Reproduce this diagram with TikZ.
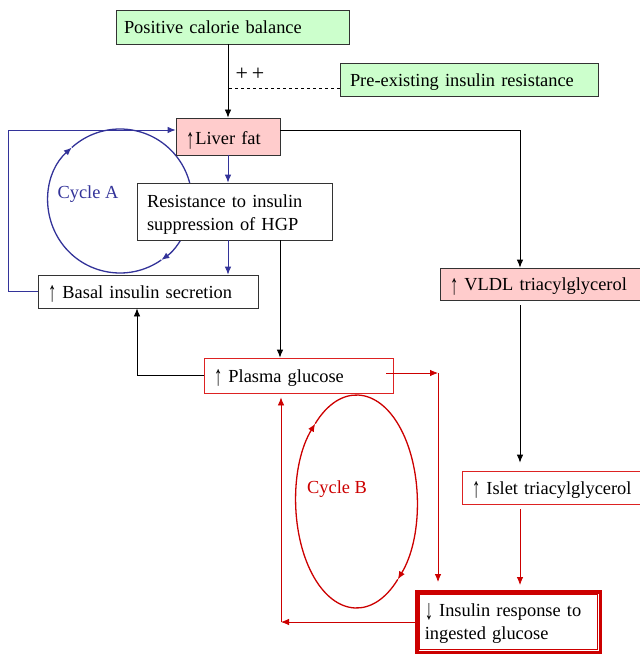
\documentclass[tikz,border=0pt]{standalone}
\usepackage{fontspec}
\usepackage{graphicx}
\setmainfont{Liberation Serif}
\usetikzlibrary{arrows.meta}
\definecolor{cblue}{HTML}{333399}
\definecolor{cred}{HTML}{CC0000}
\definecolor{lred}{HTML}{DD2222}
\definecolor{gfill}{HTML}{CCFFCC}
\definecolor{pfill}{HTML}{FFCCCC}
\definecolor{bgray}{HTML}{333333}
\newcommand\uparr{\raisebox{-3.5pt}{\scalebox{0.9}[1.55]{↑}}}
\newcommand\dnarr{\raisebox{-3.5pt}{\scalebox{0.9}[1.55]{↓}}}
\begin{document}
\begin{tikzpicture}[x=1pt,y=-1pt,
  box/.style={draw=bgray, rectangle, inner xsep=10pt, inner ysep=0pt, align=left,
    font=\fontsize{18.4}{23}\selectfont, line width=0.8pt, fill=white},
  single/.style={text height=15pt, text depth=1.5pt},
  arr/.style={-{Latex[length=8pt,width=6.5pt]}, line width=0.8pt},
  cyc/.style={line width=1.3pt, -{Latex[length=8pt,width=6.5pt]}},
  lbl/.style={font=\fontsize{18.4}{23}\selectfont},
 ]
\useasboundingbox (0,0) rectangle (639,655);

% cycles (drawn first so the boxes cover them)
\draw[cyc, cblue] ([shift={(55:72)}]120,201) arc[start angle=55, end angle=228, radius=72];
\draw[cyc, cblue] ([shift={(228:72)}]120,201) arc[start angle=228, end angle=415, radius=72];
\draw[cyc, cred] ([shift={(47:60.5 and 106.5)}]356.5,501.5) arc[start angle=47, end angle=227, x radius=60.5, y radius=106.5];
\draw[cyc, cred] ([shift={(227:60.5 and 106.5)}]356.5,501.5) arc[start angle=227, end angle=407, x radius=60.5, y radius=106.5];
\node[lbl, text=cblue] (ca) at (88,194) {Cycle A};
\node[lbl, text=cred] (cb) at (337,489) {Cycle B};

% boxes
\node[box, single, fill=gfill, inner xsep=8pt, minimum width=233, minimum height=34, text width=217] (pcb) at (232.5,27) {Positive calorie balance};
\node[box, single, fill=gfill, minimum width=258, minimum height=33, text width=238] (pre) at (469,79.5) {Pre-existing insulin resistance};
\node[box, fill=pfill, text height=18pt, text depth=1pt, minimum width=104, minimum height=37, text width=84] (liver) at (228,136.5) {\uparr\kern1pt Liver fat};
\node[box, text height=13pt, text depth=22pt, minimum width=195, minimum height=57, text width=175] (res) at (234.5,211.5) {Resistance to insulin\\suppression of HGP};
\node[box, single, minimum width=220, minimum height=33, text width=200] (basal) at (148,291.5) {\uparr\ Basal insulin secretion};
\node[box, single, draw=lred, minimum width=189, minimum height=35, text width=169] (plasma) at (298.5,375.5) {\uparr\ Plasma glucose};
\node[box, single, fill=pfill, minimum width=205, minimum height=32, text width=185] (vldl) at (542.5,284) {\uparr\ VLDL triacylglycerol};
\node[box, single, draw=lred, minimum width=183, minimum height=33, text width=163] (islet) at (553.5,487.5) {\uparr\ Islet triacylglycerol};
\node[box, draw=cred, line width=3.5pt, inner xsep=8pt, text height=13pt, text depth=25pt, minimum width=183.5, minimum height=60.5, text width=167.5] (ins) at (508.5,622) {\dnarr\ Insulin response to\\ingested glucose};
\draw[cred, line width=1pt] ([shift={(4.2,4.2)}]ins.north west) rectangle ([shift={(-4.2,-4.2)}]ins.south east);

% helper coordinates
\coordinate (dj) at (228,88);
\coordinate (ly) at (0,130);
\coordinate (vx) at (520,0);
\coordinate (rx) at (280,0);
\coordinate (bx) at (137,0);
\coordinate (lx) at (8,0);
\coordinate (pr) at (386,373);
\coordinate (pc) at (438,373);
\coordinate (lc) at (281,622);

% connectors
\draw[arr] (pcb.south -| liver.north) -- (liver.north);
\draw[dashed, line width=0.6pt] (pre.west |- dj) -- (dj);
\node[font=\fontsize{22}{24}\selectfont] (pp) at (250,74) {+\kern4pt+};
\draw[arr] (liver.east |- ly) -| (vx |- vldl.north);
\draw[arr, cblue] (liver.south) -- (liver.south |- res.north);
\draw[arr, cblue] (res.south -| liver.south) -- (liver.south |- basal.north);
\draw[arr] (rx |- res.south) -- (rx |- plasma.north);
\draw[arr] (plasma.west) -| (bx |- basal.south);
\draw[arr, cblue] (basal.west) -- (lx |- basal.west) -- (lx |- ly) -- (liver.west |- ly);
\draw[arr, shorten <=5pt, shorten >=8pt] (vx |- vldl.south) -- (vx |- islet.north);
\draw[arr, cred, shorten <=5pt, shorten >=5pt] (vx |- islet.south) -- (vx |- ins.north);
\draw[arr, cred] (pr) -- (pc);
\draw[arr, cred, shorten >=8pt] (pc) -- (pc |- ins.north);
\draw[arr, cred] (ins.west) -- (lc);
\draw[arr, cred, shorten >=4pt] (lc) -- (lc |- plasma.south);
\end{tikzpicture}
\end{document}
